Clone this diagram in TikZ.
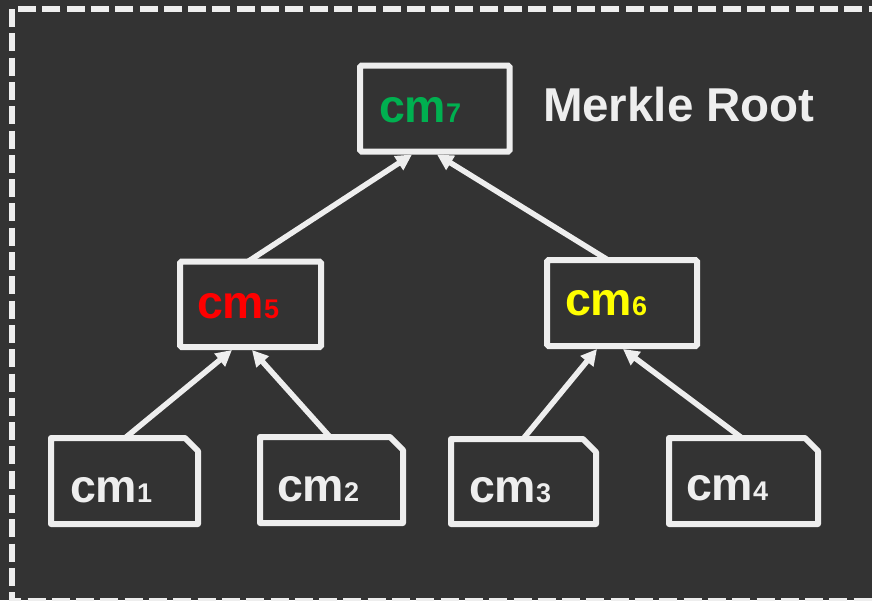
\documentclass[tikz,border=0pt]{standalone}
\usepackage{fontspec}
\setmainfont{Liberation Sans}
\usetikzlibrary{arrows.meta}
\definecolor{bg}{HTML}{333333}
\definecolor{fg}{HTML}{EEEEEE}
\definecolor{cmgreen}{HTML}{00B050}
\definecolor{cmred}{HTML}{FF0000}
\definecolor{cmyellow}{HTML}{FFFF00}
\newcommand{\cmlabel}[1]{{\fontsize{46.5}{50}\selectfont cm}{\fontsize{27}{30}\selectfont #1}}
\tikzset{
  boxnode/.style={draw=fg, line width=6pt, rounded corners=1.5pt, inner sep=0pt, outer sep=0pt, fill=none},
  leafnode/.style={draw=none, inner sep=0pt, outer sep=0pt},
  leafshape/.style={draw=fg, line width=6pt, line join=round},
  lbl/.style={inner sep=0pt, outer sep=0pt, anchor=base west, font=\bfseries, text=fg},
  arr/.style={draw=fg, line width=5.5pt, -{Triangle[length=16pt,width=16pt]}},
  frame/.style={draw=fg, line width=6pt, dash pattern=on 18pt off 6.3pt}
}
\begin{document}
\begin{tikzpicture}[x=1pt,y=-1pt]
\useasboundingbox (0,0) rectangle (872,600);
\fill[bg] (0,0) rectangle (872,600);
\begin{scope}
\clip (0,0) rectangle (872,600);
\draw[frame] (12,9) rectangle (890,601);
\end{scope}

% inner nodes
\node[boxnode, minimum width=149.5pt, minimum height=86pt] (n7) at (434.75,108.5) {};
\node[boxnode, minimum width=141pt, minimum height=85.5pt] (n5) at (250.5,304.25) {};
\node[boxnode, minimum width=150pt, minimum height=86pt] (n6) at (622,303) {};

% leaves
\node[leafnode, minimum width=147pt, minimum height=86pt] (n1) at (124.5,481) {};
\node[leafnode, minimum width=143pt, minimum height=86pt] (n2) at (331.5,480) {};
\node[leafnode, minimum width=145pt, minimum height=85pt] (n3) at (523.5,481.5) {};
\node[leafnode, minimum width=149pt, minimum height=86pt] (n4) at (743.5,481) {};
\foreach \n in {n1,n2,n3,n4}{
  \draw[leafshape] (\n.north west) -- ([xshift=-13pt]\n.north east) -- ([yshift=-13pt]\n.north east) -- (\n.south east) -- (\n.south west) -- cycle;
}

% labels
\node[lbl] (t7) at (379,122) {\textcolor{cmgreen}{\cmlabel{7}}};
\node[lbl] (t5) at (197,318) {\textcolor{cmred}{\cmlabel{5}}};
\node[lbl] (t6) at (565,315) {\textcolor{cmyellow}{\cmlabel{6}}};
\node[lbl] (t1) at (70,502) {\cmlabel{1}};
\node[lbl] (t2) at (277,501) {\cmlabel{2}};
\node[lbl] (t3) at (469,502) {\cmlabel{3}};
\node[lbl] (t4) at (686,500) {\cmlabel{4}};
\node[lbl] (title) at (543,121) {\fontsize{47.5}{52}\selectfont Merkle Root};

% connectors
\draw[arr] ([xshift=0.5pt]n1.north) -- ([xshift=-18.5pt,yshift=-3pt]n5.south);
\draw[arr] ([xshift=-1.5pt]n2.north) -- ([xshift=1.5pt,yshift=-3pt]n5.south);
\draw[arr] ([xshift=-0.5pt]n3.north) -- ([xshift=-25pt,yshift=-3pt]n6.south);
\draw[arr] ([xshift=-1.5pt]n4.north) -- ([xshift=1pt,yshift=-3pt]n6.south);
\draw[arr] ([xshift=-2.5pt]n5.north) -- ([xshift=-22.75pt,yshift=-3pt]n7.south);
\draw[arr] ([xshift=-14pt]n6.north) -- ([xshift=2.25pt,yshift=-3pt]n7.south);
\end{tikzpicture}
\end{document}
